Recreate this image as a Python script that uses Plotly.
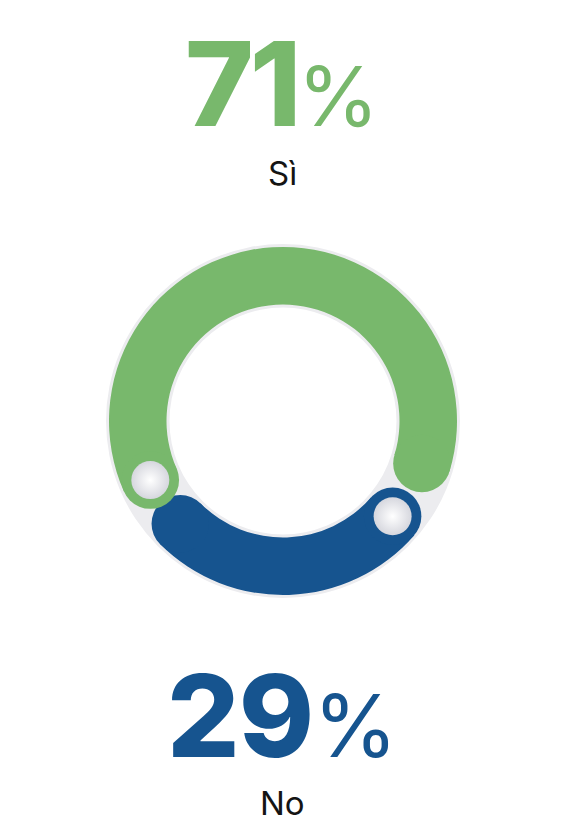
import plotly.graph_objects as go

# answers and their share
LABELS = ["Sì", "No"]
SHARES = [71, 29]
COLORS = ["#78B86C", "#16548F"]

# arc ends as drawn (degrees clockwise from 12 o'clock), start carries the knob
ARC_START = [246, 131]
ARC_END = [107, 225]

W, H = 580, 836
PAD = 8                     # page body margin
R_IN, R_OUT = 116.5, 174
R_MID = (R_IN + R_OUT) / 2
CX, CY = 283 - PAD, 421 - PAD   # ring centre in pixels
RMAX = 178

fig = go.Figure()

# light grey track behind the arcs
fig.add_trace(go.Barpolar(
    theta=[0], width=[360], base=[R_IN - 3], r=[R_OUT - R_IN + 6],
    marker=dict(color="#ececef", line=dict(width=0)),
    hoverinfo="skip", showlegend=False,
))

for i, lab in enumerate(LABELS):
    span = (ARC_END[i] - ARC_START[i]) % 360
    fig.add_trace(go.Barpolar(
        theta=[(ARC_START[i] + span / 2) % 360], width=[span],
        base=[R_IN], r=[R_OUT - R_IN],
        marker=dict(color=COLORS[i], line=dict(width=0)),
        name=lab, showlegend=False, hoverinfo="skip",
    ))

cap = R_OUT - R_IN
# round end caps first, then the knob caps on top
for i in [0, 1]:
    fig.add_trace(go.Scatterpolar(
        r=[R_MID], theta=[ARC_END[i]], mode="markers",
        marker=dict(size=cap, color=COLORS[i], line=dict(width=0)),
        showlegend=False, hoverinfo="skip",
    ))
for i in [0, 1]:
    fig.add_trace(go.Scatterpolar(
        r=[R_MID], theta=[ARC_START[i]], mode="markers",
        marker=dict(size=cap, color=COLORS[i], line=dict(width=0)),
        showlegend=False, hoverinfo="skip",
    ))
    # radial gradient: marker colour is the rim, gradient colour the centre
    fig.add_trace(go.Scatterpolar(
        r=[R_MID], theta=[ARC_START[i]], mode="markers",
        marker=dict(size=38, color="#d6d7de", line=dict(width=0),
                    gradient=dict(type="radial", color="#ffffff")),
        showlegend=False, hoverinfo="skip",
    ))

big = [117, 114]
pct_scale = [0.71, 0.76]
spacing = [-4, -1]
ypos = [83, 715.5]
lab_y = [172.5, 802.5]
for i, lab in enumerate(LABELS):
    fig.add_annotation(
        text=(f"<span style='font-weight:800;letter-spacing:{spacing[i]}px'>{SHARES[i]}</span>"
              f"<span style='font-size:{int(big[i] * pct_scale[i])}px;font-weight:400'>%</span>"),
        x=(282 - PAD) / W, y=1 - (ypos[i] - PAD) / H, xref="paper", yref="paper",
        xanchor="center", yanchor="middle", showarrow=False,
        font=dict(family="Inter", size=big[i], color=COLORS[i]),
    )
    fig.add_annotation(
        text=lab, x=(282 - PAD) / W, y=1 - (lab_y[i] - PAD) / H,
        xref="paper", yref="paper",
        xanchor="center", yanchor="middle", showarrow=False,
        font=dict(family="Inter", size=33, color="#141414"),
    )

fig.update_layout(
    width=W, height=H,
    margin=dict(l=0, r=0, t=0, b=0),
    paper_bgcolor="white",
    polar=dict(
        domain=dict(x=[(CX - RMAX) / W, (CX + RMAX) / W],
                    y=[(H - CY - RMAX) / H, (H - CY + RMAX) / H]),
        bgcolor="rgba(0,0,0,0)",
        radialaxis=dict(visible=False, range=[0, RMAX]),
        angularaxis=dict(visible=False, direction="clockwise", rotation=90),
        barmode="overlay",
    ),
)

fig.write_html("out.html")
